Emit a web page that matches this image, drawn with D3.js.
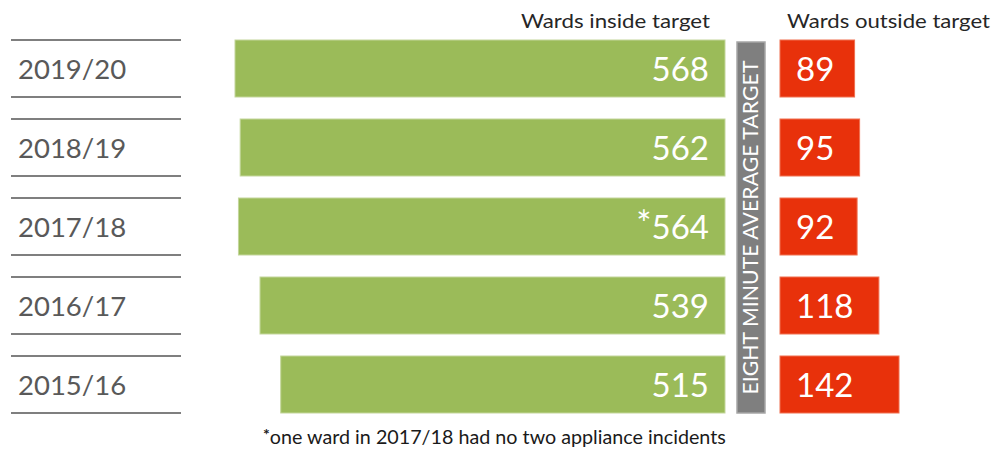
<!DOCTYPE html>
<html>
<head>
<meta charset="utf-8">
<script src="https://cdn.jsdelivr.net/npm/d3@7"></script>
<style>
  html, body { margin: 0; padding: 0; background: #ffffff; }
  svg { display: block; font-family: Lato, "Open Sans", sans-serif; }
</style>
</head>
<body>
<svg id="chart" width="999" height="450"></svg>
<script>
// ---- data ----
const years = ["2019/20", "2018/19", "2017/18", "2016/17", "2015/16"];
const insideTarget = [568, 562, 564, 539, 515];
const insideLabels = ["568", "562", "*564", "539", "515"];
const outsideTarget = [89, 95, 92, 118, 142];
const headerInside = "Wards inside target";
const headerOutside = "Wards outside target";
const targetLabel = "EIGHT MINUTE AVERAGE TARGET";
const footnote = "one ward in 2017/18 had no two appliance incidents";

// ---- layout ----
const svg = d3.select("#chart");
const GREEN = "#9bbb59", RED = "#e8310b", GREY = "#7f7f7f";
const insideRight = 725, outsideLeft = 780;

const y = d3.scaleBand().domain(years).range([40, 413]).paddingInner(22 / 79).paddingOuter(0);
const xIn = d3.scaleLinear().domain([0, 568]).range([0, 490]);
const xOut = d3.scaleLinear().domain([0, 142]).range([0, 119]);

const rows = years.map((yr, i) => ({
  year: yr, inside: insideTarget[i], insideLabel: insideLabels[i], outside: outsideTarget[i]
}));

// left year labels with rules
const lab = svg.append("g");
rows.forEach(d => {
  [y(d.year), y(d.year) + y.bandwidth()].forEach(yy => {
    lab.append("line").attr("x1", 11).attr("x2", 181).attr("y1", yy).attr("y2", yy)
      .attr("stroke", "#7f7f7f").attr("stroke-width", 2);
  });
  lab.append("text").attr("x", 18).attr("y", y(d.year) + y.bandwidth() / 2 + 10.5)
    .attr("fill", "#595959").attr("font-size", 27.5).text(d.year);
});

// green bars
svg.append("g").selectAll("rect").data(rows).join("rect")
  .attr("x", d => insideRight - xIn(d.inside))
  .attr("y", d => y(d.year))
  .attr("width", d => xIn(d.inside))
  .attr("height", y.bandwidth())
  .attr("fill", GREEN).attr("stroke", "#c3d69b").attr("stroke-width", 1);

svg.append("g").selectAll("text").data(rows).join("text")
  .attr("x", insideRight - 16)
  .attr("y", d => y(d.year) + y.bandwidth() / 2 + 12)
  .attr("text-anchor", "end").attr("fill", "#ffffff").attr("font-size", 33)
  .each(function (d) {
    const t = d3.select(this);
    if (d.insideLabel.startsWith("*")) {
      t.append("tspan").attr("font-size", 36).attr("dy", -2).text("*");
      t.append("tspan").attr("dy", 2).text(d.insideLabel.slice(1));
    } else {
      t.text(d.insideLabel);
    }
  });

// red bars
svg.append("g").selectAll("rect").data(rows).join("rect")
  .attr("x", outsideLeft)
  .attr("y", d => y(d.year))
  .attr("width", d => xOut(d.outside))
  .attr("height", y.bandwidth())
  .attr("fill", RED).attr("stroke", "#f07050").attr("stroke-width", 1);

svg.append("g").selectAll("text").data(rows).join("text")
  .attr("x", outsideLeft + 16)
  .attr("y", d => y(d.year) + y.bandwidth() / 2 + 12)
  .attr("fill", "#ffffff").attr("font-size", 33)
  .text(d => d.outside);

// target divider
svg.append("rect").attr("x", 737).attr("y", 42).attr("width", 28).attr("height", 371)
  .attr("fill", GREY).attr("stroke", "#a6a6a6").attr("stroke-width", 1.5);
svg.append("text")
  .attr("transform", "translate(758," + (42 + 371 / 2) + ") rotate(-90)")
  .attr("text-anchor", "middle").attr("fill", "#ffffff").attr("font-size", 21)
  .attr("textLength", 334).attr("lengthAdjust", "spacingAndGlyphs")
  .text(targetLabel);

// headers
svg.append("text").attr("x", 521).attr("y", 28)
  .attr("fill", "#262626").attr("font-size", 20)
  .attr("textLength", 189).attr("lengthAdjust", "spacingAndGlyphs").text(headerInside);
svg.append("text").attr("x", 787).attr("y", 28)
  .attr("fill", "#262626").attr("font-size", 20)
  .attr("textLength", 203).attr("lengthAdjust", "spacingAndGlyphs").text(headerOutside);

// footnote
const fn = svg.append("text").attr("x", 263).attr("y", 444).attr("fill", "#1a1a1a").attr("font-size", 18.5);
fn.append("tspan").attr("font-size", 16).attr("font-weight", "bold").attr("dy", -4).text("*");
fn.append("tspan").attr("dy", 4).attr("textLength", 456).attr("lengthAdjust", "spacingAndGlyphs").text(footnote);
</script>
</body>
</html>
